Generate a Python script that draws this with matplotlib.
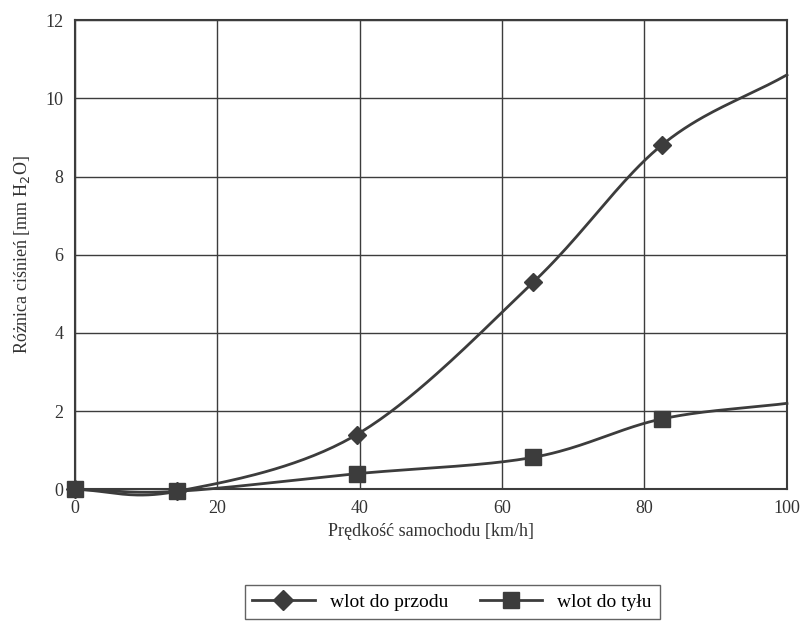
import numpy as np
import matplotlib.pyplot as plt

# dane
predkosc = [0, 14.4, 39.6, 64.4, 82.4, 100]
przod = [0, -0.05, 1.4, 5.3, 8.8, 10.6]
tyl = [0, -0.05, 0.4, 0.82, 1.8, 2.2]

x_ticks = [0, 20, 40, 60, 80, 100]
y_ticks = [0, 2, 4, 6, 8, 10, 12]


def gladka(x, y, n=40):
    # wygladzanie linii jak w Excelu (Catmull-Rom)
    x = np.asarray(x, float)
    y = np.asarray(y, float)
    px = np.concatenate([[2 * x[0] - x[1]], x, [2 * x[-1] - x[-2]]])
    py = np.concatenate([[2 * y[0] - y[1]], y, [2 * y[-1] - y[-2]]])
    xs, ys = [], []
    t = np.linspace(0, 1, n)
    for i in range(1, len(px) - 2):
        for p, out in ((px, xs), (py, ys)):
            p0, p1, p2, p3 = p[i - 1], p[i], p[i + 1], p[i + 2]
            out.extend(0.5 * (2 * p1 + (-p0 + p2) * t
                              + (2 * p0 - 5 * p1 + 4 * p2 - p3) * t ** 2
                              + (-p0 + 3 * p1 - 3 * p2 + p3) * t ** 3))
    return np.array(xs), np.array(ys)


plt.rcParams['font.family'] = ['Liberation Serif', 'DejaVu Serif']
kolor = '#3c3c3c'

fig = plt.figure(figsize=(8.03, 6.29), dpi=100)
ax = fig.add_axes([0.093, 0.222, 0.887, 0.746])

for yv, nazwa, marker, ms in ((przod, 'wlot do przodu', 'D', 9),
                              (tyl, 'wlot do tyłu', 's', 11)):
    sx, sy = gladka(predkosc, yv)
    ax.plot(sx, sy, color=kolor, lw=2, zorder=3)
    ax.plot(predkosc[:-1], yv[:-1], linestyle='none', marker=marker, ms=ms,
            color=kolor, zorder=4)
    ax.plot([], [], color=kolor, lw=2, marker=marker, ms=ms + 1, label=nazwa)

ax.set_xlim(0, 100)
ax.set_ylim(0, 12)
ax.set_xticks(x_ticks)
ax.set_yticks(y_ticks)
ax.grid(True, color=kolor, lw=1)
ax.tick_params(length=0, labelsize=13, colors='#333333', pad=8)
for s in ax.spines.values():
    s.set_color(kolor)
    s.set_linewidth(1.5)
for ln in ax.lines:
    ln.set_clip_on(False)

ax.set_xlabel('Prędkość samochodu [km/h]', fontsize=13, color='#333333', labelpad=4)
ax.set_ylabel('Różnica ciśnień [mm H$_2$O]', fontsize=13, color='#333333', labelpad=10)

fig.legend(loc='center', bbox_to_anchor=(0.563, 0.043), ncol=2, fontsize=14,
           frameon=True, fancybox=False, edgecolor=kolor, handlelength=3.2,
           columnspacing=1.6, borderpad=0.4)

fig.savefig('out.png', dpi=100)
